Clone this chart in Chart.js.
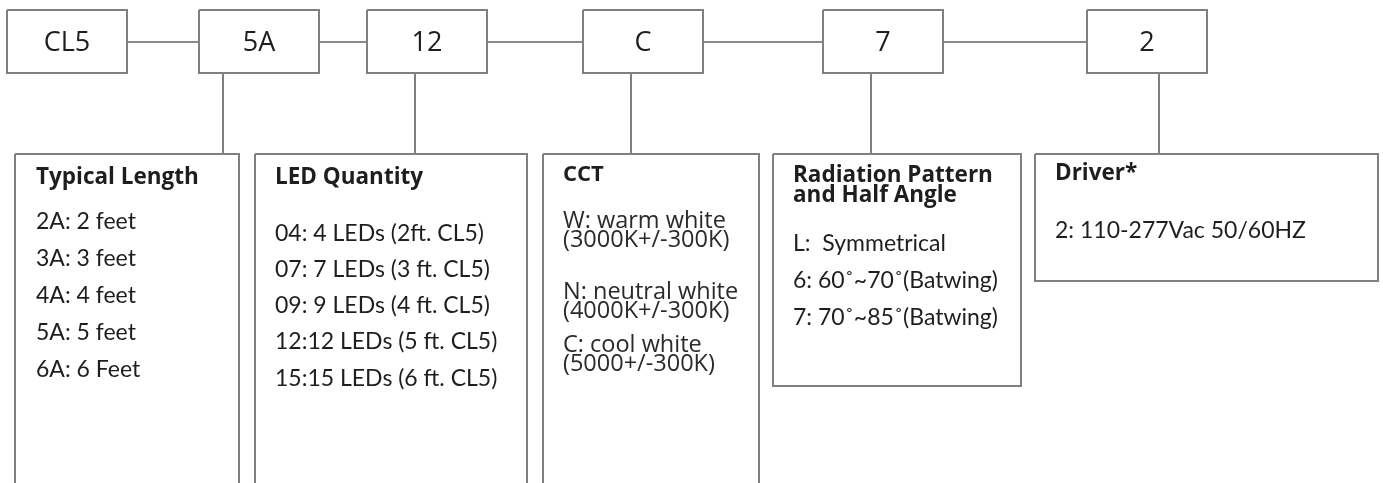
<!DOCTYPE html>
<html>
<head>
<meta charset="utf-8">
<script src="https://cdn.jsdelivr.net/npm/chart.js@4.4.1/dist/chart.umd.min.js"></script>
<style>
  html, body { margin: 0; padding: 0; background: #fff; }
  #wrap { width: 1383px; height: 483px; position: relative; }
</style>
</head>
<body>
<div id="wrap"><canvas id="codeChart"></canvas></div>
<script>
// === Datos del código de producto ===
const codes = ['CL5', '5A', '12', 'C', '7', '2'];
const groupTitles = [
  ['Typical Length'],
  ['LED Quantity'],
  ['CCT'],
  ['Radiation Pattern', 'and Half Angle'],
  ['Driver*']
];
const lengthOptions = ['2A: 2 feet', '3A: 3 feet', '4A: 4 feet', '5A: 5 feet', '6A: 6 Feet'];
const ledOptions = ['04: 4 LEDs (2ft. CL5)', '07: 7 LEDs (3 ft. CL5)', '09: 9 LEDs (4 ft. CL5)', '12:12 LEDs (5 ft. CL5)', '15:15 LEDs (6 ft. CL5)'];
const cctOptions = [['W: warm white', '(3000K+/-300K)'], ['N: neutral white', '(4000K+/-300K)'], ['C: cool white', '(5000+/-300K)']];
const patternOptions = ['L:  Symmetrical', '6: 60\u02DA~70\u02DA(Batwing)', '7: 70\u02DA~85\u02DA(Batwing)'];
const driverOptions = ['2: 110-277Vac 50/60HZ'];
const groupOptions = [lengthOptions, ledOptions, cctOptions, patternOptions, driverOptions];

// === Disposición (coordenadas de la escala) ===
const topLeft = [7, 199, 367, 583, 823, 1087];
const topW = 120, topY0 = 10, topY1 = 73, linkY = 42;
const stemX = [223, 415, 631, 871, 1159];
const boxes = [
  { l: 15, r: 239, b: 495 },
  { l: 255, r: 527, b: 495 },
  { l: 543, r: 759, b: 495 },
  { l: 773, r: 1021, b: 386 },
  { l: 1035, r: 1378, b: 281 }
];
const boxTop = 154;
const titleY = [178, 178, 175, 176, 174];
const optY = [
  [222, 259, 296, 333, 370],
  [234, 270, 306, 342, 379],
  [221, 292, 345],
  [244, 281, 318],
  [231]
];
const textX = [36, 275, 563, 793, 1055];

const gray = '#808080';
const datasets = [];

function rect(l, t, r, b) {
  return [{ x: l, y: t }, { x: r, y: t }, { x: r, y: b }, { x: l, y: b }, { x: l, y: t }];
}
function seg(data, w, color) {
  datasets.push({
    data: data, showLine: true, borderColor: color || gray, borderWidth: w,
    pointRadius: 0, tension: 0, fill: false, clip: false
  });
}

codes.forEach((c, i) => seg(rect(topLeft[i], topY0, topLeft[i] + topW, topY1), 2));
for (let i = 0; i < codes.length - 1; i++) {
  seg([{ x: topLeft[i] + topW, y: linkY }, { x: topLeft[i + 1], y: linkY }], 2, '#8c8c8c');
}
stemX.forEach(x => seg([{ x: x, y: topY1 }, { x: x, y: boxTop }], 2));
boxes.forEach(b => seg(rect(b.l, boxTop, b.r, b.b), 2));

// === Textos ===
const textPlugin = {
  id: 'codeText',
  afterDatasetsDraw(chart) {
    const { ctx, scales: { x, y } } = chart;
    ctx.save();
    ctx.textBaseline = 'middle';

    ctx.fillStyle = '#1e1e1e';
    ctx.textAlign = 'center';
    ctx.font = '27px "Open Sans"';
    codes.forEach((c, i) => {
      ctx.fillText(c, x.getPixelForValue(topLeft[i] + topW / 2), y.getPixelForValue(linkY + 1));
    });

    ctx.textAlign = 'left';
    groupTitles.forEach((lines, g) => {
      ctx.font = (g === 2 ? 'bold 22px' : 'bold 22.5px') + ' "Open Sans"';
      ctx.fillStyle = '#1e1e1e';
      lines.forEach((t, k) => {
        ctx.fillText(t, x.getPixelForValue(textX[g]), y.getPixelForValue(titleY[g] + k * 20));
      });
      groupOptions[g].forEach((opt, k) => {
        if (Array.isArray(opt)) {
          ctx.font = '23.5px "Open Sans"';
          ctx.fillStyle = '#2a2a2a';
          opt.forEach((t, j) => {
            ctx.fillText(t, x.getPixelForValue(textX[g]), y.getPixelForValue(optY[g][k] + j * 19));
          });
        } else {
          ctx.font = '23px Lato';
          ctx.fillStyle = '#1e1e1e';
          ctx.fillText(opt, x.getPixelForValue(textX[g]), y.getPixelForValue(optY[g][k]));
        }
      });
    });
    ctx.restore();
  }
};

new Chart(document.getElementById('codeChart'), {
  type: 'scatter',
  data: { datasets: datasets },
  options: {
    responsive: true,
    maintainAspectRatio: false,
    animation: false,
    layout: { padding: 0 },
    plugins: { legend: { display: false }, tooltip: { enabled: false } },
    scales: {
      x: { type: 'linear', min: 0, max: 1383, display: false },
      y: { type: 'linear', min: 0, max: 483, reverse: true, display: false }
    }
  },
  plugins: [textPlugin]
});
</script>
</body>
</html>
